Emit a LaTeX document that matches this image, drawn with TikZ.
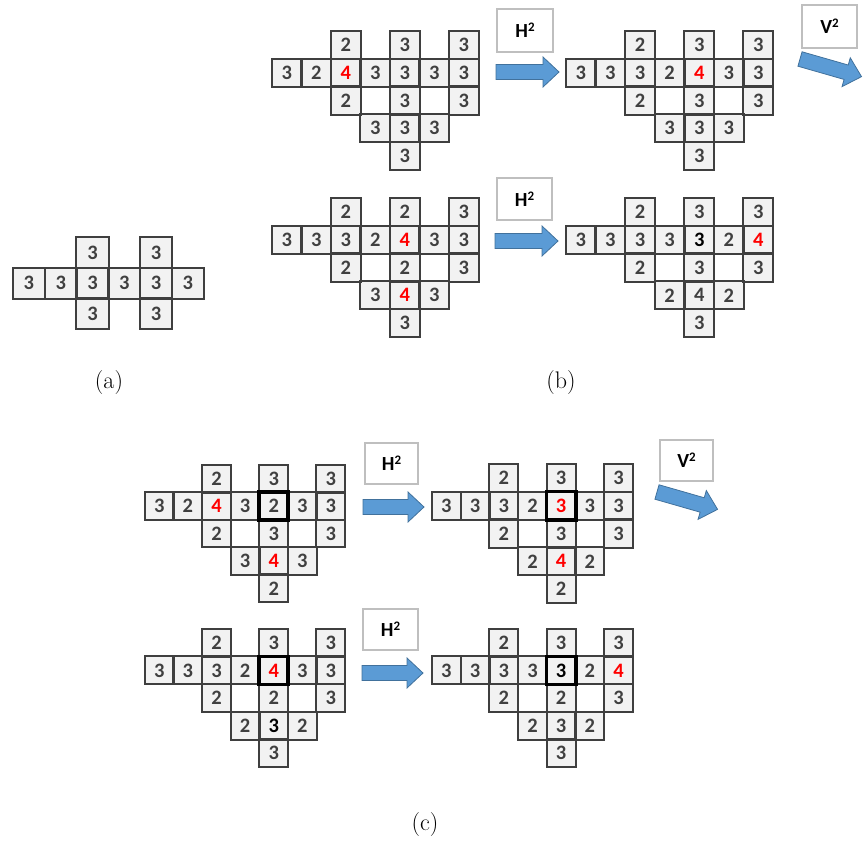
\documentclass[tikz,border=0pt]{standalone}
\usepackage{fontspec}
\newfontfamily\digitfont{Carlito}
\definecolor{celltext}{HTML}{404040}
\definecolor{cellline}{HTML}{3F3F3F}
\definecolor{cellfill}{HTML}{F2F2F2}
\definecolor{redtext}{HTML}{FF0000}
\definecolor{blacktext}{HTML}{000000}
\definecolor{arrowfill}{HTML}{5B9BD5}
\definecolor{arrowline}{HTML}{41719C}
\definecolor{boxline}{HTML}{BFBFBF}
\tikzset{
  cell/.style={fill=cellfill, inner sep=0pt,
    font=\digitfont\bfseries\fontsize{20.5}{24}\selectfont},
  cellborder/.style={draw=cellline, line width=2pt},
  thickbox/.style={draw=black, line width=3.6pt},
  opbox/.style={draw=boxline, fill=white, line width=1.3pt, inner sep=0pt,
    font=\digitfont\bfseries\fontsize{20}{24}\selectfont},
  bluearrowstyle/.style={fill=arrowfill, draw=arrowline, line width=0.8pt, line join=miter},
  caption/.style={font=\fontsize{24}{28}\selectfont, inner sep=0pt}
}
\newcommand\suptwo{\raisebox{6.3pt}{\fontsize{13}{13}\selectfont 2}}
% #1 name, #2 x0, #3 y0, #4 w, #5 h, #6 list c/r/v/color
\newcommand\drawgrid[6]{%
  \foreach \c/\r/\v/\col in {#6} {
    \node[cell, minimum width=#4pt, minimum height=#5pt, text=\col]
      (#1-\c-\r) at ({#2+(\c+0.5)*#4}, {#3+(\r+0.5)*#5}) {\v};
  }
  \foreach \c/\r/\v/\col in {#6} {
    \draw[cellborder] (#1-\c-\r.north west) rectangle (#1-\c-\r.south east);
  }%
}
% #1 x, #2 y (tail centre), #3 angle, #4 length
\newcommand\bluearrow[4]{%
  \begin{scope}[shift={(#1,#2)}, rotate=#3]
    \draw[bluearrowstyle] (0,-7.5) -- ({#4-16},-7.5) -- ({#4-16},-15) -- (#4,0)
      -- ({#4-16},15) -- ({#4-16},7.5) -- (0,7.5) -- cycle;
  \end{scope}%
}
\begin{document}
\begin{tikzpicture}[x=1pt, y=-1pt]
\useasboundingbox (0,0) rectangle (867,846);

% ---------- (a)
\drawgrid{ga}{13}{237}{31.8}{30.7}{2/0/3/celltext, 4/0/3/celltext,
  0/1/3/celltext, 1/1/3/celltext, 2/1/3/celltext, 3/1/3/celltext, 4/1/3/celltext, 5/1/3/celltext,
  2/2/3/celltext, 4/2/3/celltext}
\node[caption] (capa) at (109,383) {(a)};

% ---------- (b) top left
\drawgrid{gb1}{272}{31}{29.5}{27.8}{2/0/2/celltext, 4/0/3/celltext, 6/0/3/celltext,
  0/1/3/celltext, 1/1/2/celltext, 2/1/4/redtext, 3/1/3/celltext, 4/1/3/celltext, 5/1/3/celltext, 6/1/3/celltext,
  2/2/2/celltext, 4/2/3/celltext, 6/2/3/celltext,
  3/3/3/celltext, 4/3/3/celltext, 5/3/3/celltext, 4/4/3/celltext}
% (b) top right
\drawgrid{gb2}{566}{31}{29.6}{27.8}{2/0/2/celltext, 4/0/3/celltext, 6/0/3/celltext,
  0/1/3/celltext, 1/1/3/celltext, 2/1/3/celltext, 3/1/2/celltext, 4/1/4/redtext, 5/1/3/celltext, 6/1/3/celltext,
  2/2/2/celltext, 4/2/3/celltext, 6/2/3/celltext,
  3/3/3/celltext, 4/3/3/celltext, 5/3/3/celltext, 4/4/3/celltext}
% (b) bottom left
\drawgrid{gb3}{272}{198}{29.5}{27.8}{2/0/2/celltext, 4/0/2/celltext, 6/0/3/celltext,
  0/1/3/celltext, 1/1/3/celltext, 2/1/3/celltext, 3/1/2/celltext, 4/1/4/redtext, 5/1/3/celltext, 6/1/3/celltext,
  2/2/2/celltext, 4/2/2/celltext, 6/2/3/celltext,
  3/3/3/celltext, 4/3/4/redtext, 5/3/3/celltext, 4/4/3/celltext}
% (b) bottom right
\drawgrid{gb4}{566}{198}{29.6}{27.8}{2/0/2/celltext, 4/0/3/celltext, 6/0/3/celltext,
  0/1/3/celltext, 1/1/3/celltext, 2/1/3/celltext, 3/1/3/celltext, 4/1/3/blacktext, 5/1/2/celltext, 6/1/4/redtext,
  2/2/2/celltext, 4/2/3/celltext, 6/2/3/celltext,
  3/3/2/celltext, 4/3/4/celltext, 5/3/2/celltext, 4/4/3/celltext}

\node[opbox, minimum width=56pt, minimum height=43pt] (hb1) at (525,30.5) {H\suptwo};
\node[opbox, minimum width=55pt, minimum height=42pt] (hb2) at (524.5,199) {H\suptwo};
\node[opbox, minimum width=55pt, minimum height=43pt] (vb1) at (829.5,26.5) {V\suptwo};
\bluearrow{496}{72}{0}{63}
\bluearrow{495}{241}{0}{63}
\bluearrow{800}{59}{-16}{64}
\node[caption] (capb) at (561,383) {(b)};

% ---------- (c) top left
\drawgrid{gc1}{145}{465}{28.6}{27.4}{2/0/2/celltext, 4/0/3/celltext, 6/0/3/celltext,
  0/1/3/celltext, 1/1/2/celltext, 2/1/4/redtext, 3/1/3/celltext, 4/1/2/celltext, 5/1/3/celltext, 6/1/3/celltext,
  2/2/2/celltext, 4/2/3/celltext, 6/2/3/celltext,
  3/3/3/celltext, 4/3/4/redtext, 5/3/3/celltext, 4/4/2/celltext}
\draw[thickbox] (gc1-4-1.north west) rectangle (gc1-4-1.south east);
% (c) top right
\drawgrid{gc2}{432}{464}{28.7}{27.8}{2/0/2/celltext, 4/0/3/celltext, 6/0/3/celltext,
  0/1/3/celltext, 1/1/3/celltext, 2/1/3/celltext, 3/1/2/celltext, 4/1/3/redtext, 5/1/3/celltext, 6/1/3/celltext,
  2/2/2/celltext, 4/2/3/celltext, 6/2/3/celltext,
  3/3/2/celltext, 4/3/4/redtext, 5/3/2/celltext, 4/4/2/celltext}
\draw[thickbox] (gc2-4-1.north west) rectangle (gc2-4-1.south east);
% (c) bottom left
\drawgrid{gc3}{145}{629}{28.6}{27.6}{2/0/2/celltext, 4/0/3/celltext, 6/0/3/celltext,
  0/1/3/celltext, 1/1/3/celltext, 2/1/3/celltext, 3/1/2/celltext, 4/1/4/redtext, 5/1/3/celltext, 6/1/3/celltext,
  2/2/2/celltext, 4/2/2/celltext, 6/2/3/celltext,
  3/3/2/celltext, 4/3/3/blacktext, 5/3/2/celltext, 4/4/3/celltext}
\draw[thickbox] (gc3-4-1.north west) rectangle (gc3-4-1.south east);
% (c) bottom right
\drawgrid{gc4}{432}{629}{28.7}{27.6}{2/0/2/celltext, 4/0/3/celltext, 6/0/3/celltext,
  0/1/3/celltext, 1/1/3/celltext, 2/1/3/celltext, 3/1/3/celltext, 4/1/3/blacktext, 5/1/2/celltext, 6/1/4/redtext,
  2/2/2/celltext, 4/2/2/celltext, 6/2/3/celltext,
  3/3/2/celltext, 4/3/3/celltext, 5/3/2/celltext, 4/4/3/celltext}
\draw[thickbox] (gc4-4-1.north west) rectangle (gc4-4-1.south east);

\node[opbox, minimum width=53pt, minimum height=41pt] (hc1) at (391.5,463.5) {H\suptwo};
\node[opbox, minimum width=53pt, minimum height=41pt] (vc1) at (686.5,460.5) {V\suptwo};
\node[opbox, minimum width=55pt, minimum height=41pt] (hc2) at (390.5,629.5) {H\suptwo};
\bluearrow{363}{507}{0}{61}
\bluearrow{362}{673}{0}{61}
\bluearrow{657}{492}{-16}{63}
\node[caption] (capc) at (425,824) {(c)};
\end{tikzpicture}
\end{document}
